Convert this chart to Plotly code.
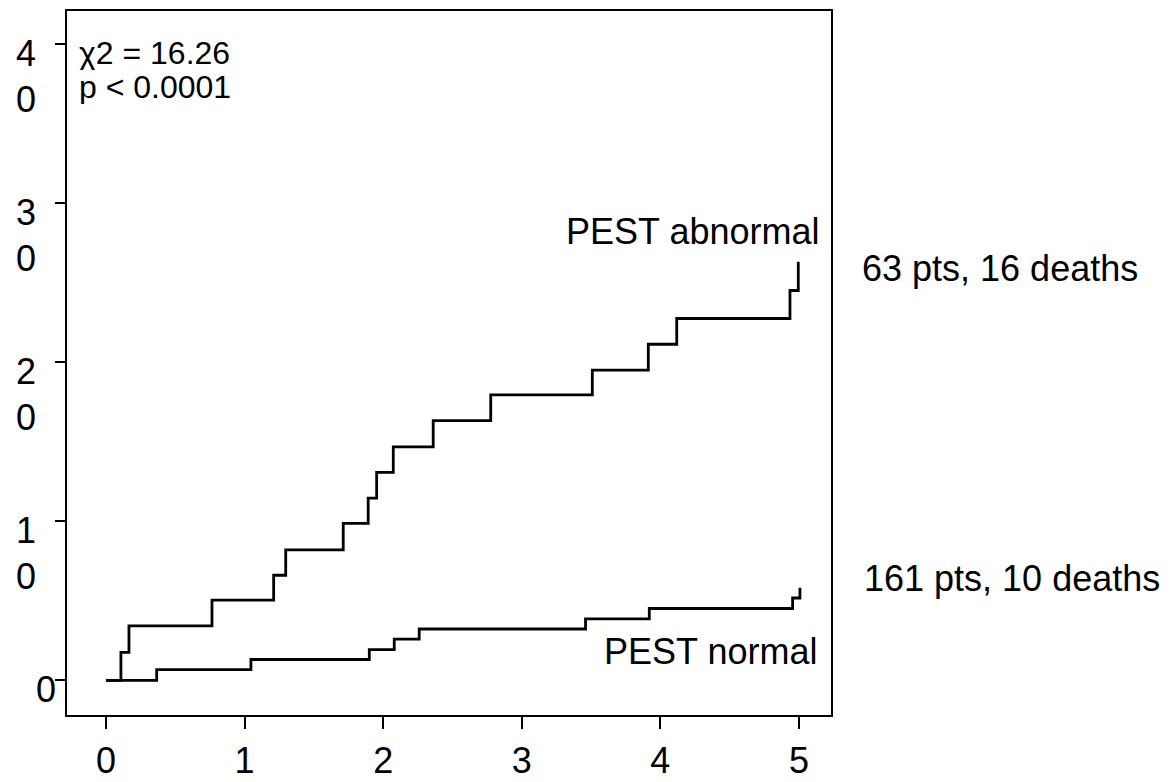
import plotly.graph_objects as go

# Kaplan-Meier style cumulative mortality (%) vs years
abnormal_times = [0.0, 0.108, 0.166, 0.765, 1.210, 1.297, 1.712, 1.892, 1.953, 2.073,
                  2.361, 2.776, 3.509, 3.913, 4.118, 4.935, 4.995]
abnormal_cum = [0.0, 1.76, 3.42, 5.04, 6.61, 8.21, 9.87, 11.46, 13.08, 14.68,
                16.33, 17.95, 19.51, 21.14, 22.76, 24.52, 26.33]

normal_times = [0.0, 0.366, 1.046, 1.90, 2.08, 2.26, 3.46, 3.92, 4.954, 5.007]
normal_cum = [0.0, 0.68, 1.31, 1.93, 2.59, 3.23, 3.86, 4.52, 5.18, 5.83]

x_tickvals = [0, 1, 2, 3, 4, 5]
x_ticktext = ["0", "1", "2", "3", "4", "5"]
y_tickvals = [0, 10, 20, 30, 40]
y_ticktext = ["0<br>\u00a0", "1\u2007<br>0\u2007", "2\u2007<br>0\u2007",
              "3\u2007<br>0\u2007", "4\u2007<br>0\u2007"]

FONT = "Liberation Sans, Arial, Helvetica, sans-serif"
X_RANGE = [-0.281, 5.231]
Y_RANGE = [-2.18, 42.1]


def xpaper(x):
    return (x - X_RANGE[0]) / (X_RANGE[1] - X_RANGE[0])


fig = go.Figure()
fig.add_trace(go.Scatter(x=abnormal_times, y=abnormal_cum, mode="lines",
                         line=dict(shape="hv", color="black", width=2.8),
                         showlegend=False, hoverinfo="skip"))
fig.add_trace(go.Scatter(x=normal_times, y=normal_cum, mode="lines",
                         line=dict(shape="hv", color="black", width=2.8),
                         showlegend=False, hoverinfo="skip"))

ann_font = dict(family=FONT, size=36, color="black")
small_font = dict(family=FONT, size=32, color="black")
annotations = [
    dict(x=-0.205, y=39.45, text="χ2 = 16.26", xanchor="left", font=small_font, height=34),
    dict(x=-0.205, y=37.35, text="p < 0.0001", xanchor="left", font=small_font, height=34),
    dict(x=5.152, y=28.2, text="PEST abnormal", xanchor="right", font=ann_font),
    dict(x=5.137, y=1.8, text="PEST normal", xanchor="right", font=ann_font),
]
for a in annotations:
    a.update(xref="x", yref="y", yanchor="middle", showarrow=False, borderpad=0)

outside = [
    dict(x=xpaper(5.447), y=25.9, text="63 pts, 16 deaths"),
    dict(x=xpaper(5.462), y=6.4, text="161 pts, 10 deaths"),
]
for a in outside:
    a.update(xref="paper", yref="y", xanchor="left", yanchor="middle",
             showarrow=False, borderpad=0, font=ann_font)

fig.update_layout(
    width=1164, height=774,
    margin=dict(l=59, r=341, t=1, b=61, pad=0),
    paper_bgcolor="white", plot_bgcolor="white",
    font=dict(family=FONT, size=36, color="black"),
    annotations=annotations + outside,
)
fig.update_xaxes(range=X_RANGE, tickvals=x_tickvals, ticktext=x_ticktext,
                 showgrid=False, zeroline=False, showline=True, mirror=True,
                 linecolor="black", linewidth=1.6, ticks="outside", ticklen=12,
                 tickwidth=1.6, tickcolor="black", ticklabelstandoff=1,
                 tickfont=dict(family=FONT, size=36, color="black"))
fig.update_yaxes(range=Y_RANGE, tickvals=y_tickvals, ticktext=y_ticktext,
                 showgrid=False, zeroline=False, showline=True, mirror=True,
                 linecolor="black", linewidth=1.6, ticks="outside", ticklen=10,
                 tickwidth=1.6, tickcolor="black", ticklabelstandoff=-8,
                 ticklabelshift=32, ticklabeloverflow="allow",
                 tickfont=dict(family=FONT, size=36, color="black"))

fig.write_html("out.html")
